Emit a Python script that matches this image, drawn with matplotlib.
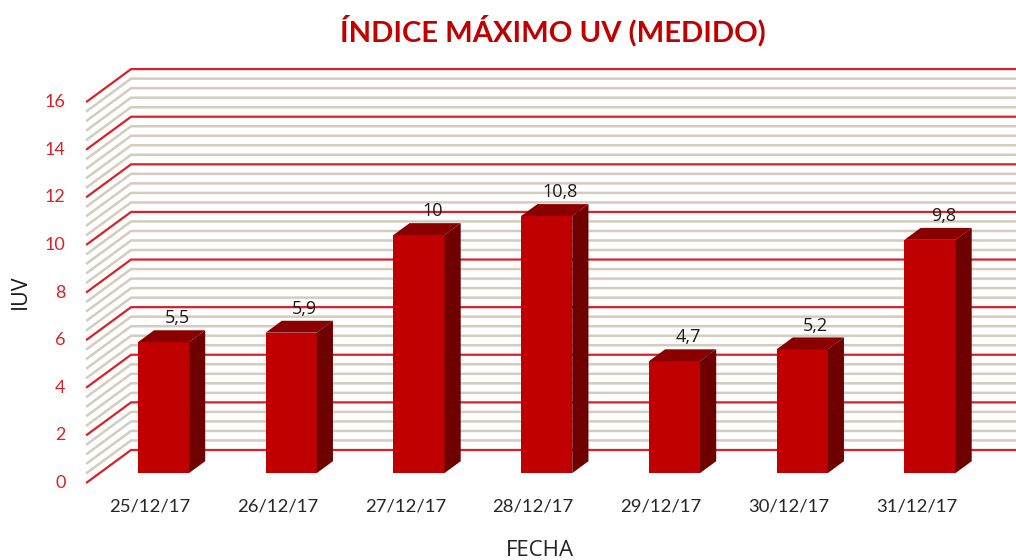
import matplotlib.pyplot as plt
from matplotlib.patches import Polygon

# data
fechas = ["25/12/17", "26/12/17", "27/12/17", "28/12/17", "29/12/17", "30/12/17", "31/12/17"]
iuv = [5.5, 5.9, 10, 10.8, 4.7, 5.2, 9.8]
etiquetas = ["5,5", "5,9", "10", "10,8", "4,7", "5,2", "9,8"]
y_ticks = [0, 2, 4, 6, 8, 10, 12, 14, 16]
y_max = 16
minor_step = 0.4

# estilo
plt.rcParams['font.family'] = ['Lato', 'DejaVu Sans']
rojo = '#C00000'
rojo_top = '#8A0000'
rojo_lado = '#6E0000'
linea_roja = '#D8222A'
linea_beige = '#D3CCBF'

# profundidad 3D (en unidades de datos)
DX = 0.352
DY = 1.387
bar_w = 0.4
d_front, d_back = 0.30, 0.66


def proj(x, y, d):
    return x + d * DX, y + d * DY


fig = plt.figure(figsize=(10.16, 5.6), dpi=100)
ax = fig.add_axes([0, 0, 1, 1])
ax.set_xlim(-1.174, 6.779)
ax.set_ylim(-3.235, 20.29)
ax.axis('off')

x_left = -0.5
x_right = len(fechas) - 0.5 + 1.0

# lineas de cuadricula: pared lateral + pared del fondo
n_minor = int(round(y_max / minor_step))
for k in range(n_minor + 1):
    v = k * minor_step
    major = abs(v / 2 - round(v / 2)) < 1e-6
    col = linea_roja if major else linea_beige
    lw = 1.6 if major else 1.8
    z = 2 if major else 1
    x0, y0 = proj(x_left, v, 0)
    x1, y1 = proj(x_left, v, 1)
    ax.plot([x0, x1, x_right], [y0, y1, y1], color=col, lw=lw, zorder=z,
            solid_capstyle='butt')

# barras 3D
for i, v in enumerate(iuv):
    xl, xr = i - bar_w / 2, i + bar_w / 2
    fl = proj(xl, 0, d_front)
    fr = proj(xr, 0, d_front)
    flt = proj(xl, v, d_front)
    frt = proj(xr, v, d_front)
    blt = proj(xl, v, d_back)
    brt = proj(xr, v, d_back)
    brb = proj(xr, 0, d_back)
    ax.add_patch(Polygon([fl, fr, frt, flt], closed=True, facecolor=rojo,
                         edgecolor='none', zorder=5))
    ax.add_patch(Polygon([flt, frt, brt, blt], closed=True, facecolor=rojo_top,
                         edgecolor='none', zorder=5))
    ax.add_patch(Polygon([fr, brb, brt, frt], closed=True, facecolor=rojo_lado,
                         edgecolor='none', zorder=5))
    lx, ly = proj(i - 0.02, v, d_back)
    ax.text(lx, ly + 0.12, etiquetas[i], ha='center', va='bottom',
            fontsize=13, color='#1a1a1a', zorder=6,
            family=['Open Sans', 'DejaVu Sans'])

# etiquetas eje Y
for t in y_ticks:
    ax.text(-0.66, t, str(t), ha='right', va='center', fontsize=13,
            color=linea_roja)

# etiquetas eje X
for i, f in enumerate(fechas):
    ax.text(i, -1.0, f, ha='center', va='center', fontsize=13.3,
            color='#262626')

fig.text(0.544, 0.946, "ÍNDICE MÁXIMO UV (MEDIDO)", ha='center', va='center',
         fontsize=21, fontweight='bold', color=rojo)
fig.text(0.020, 0.48, "IUV", ha='center', va='center', rotation=90,
         fontsize=15.5, color='#1a1a1a', family=['Open Sans', 'DejaVu Sans'])
fig.text(0.531, 0.017, "FECHA", ha='center', va='center', fontsize=16,
         color='#262626', family=['Open Sans', 'DejaVu Sans'])

fig.savefig('out.png', dpi=100)
